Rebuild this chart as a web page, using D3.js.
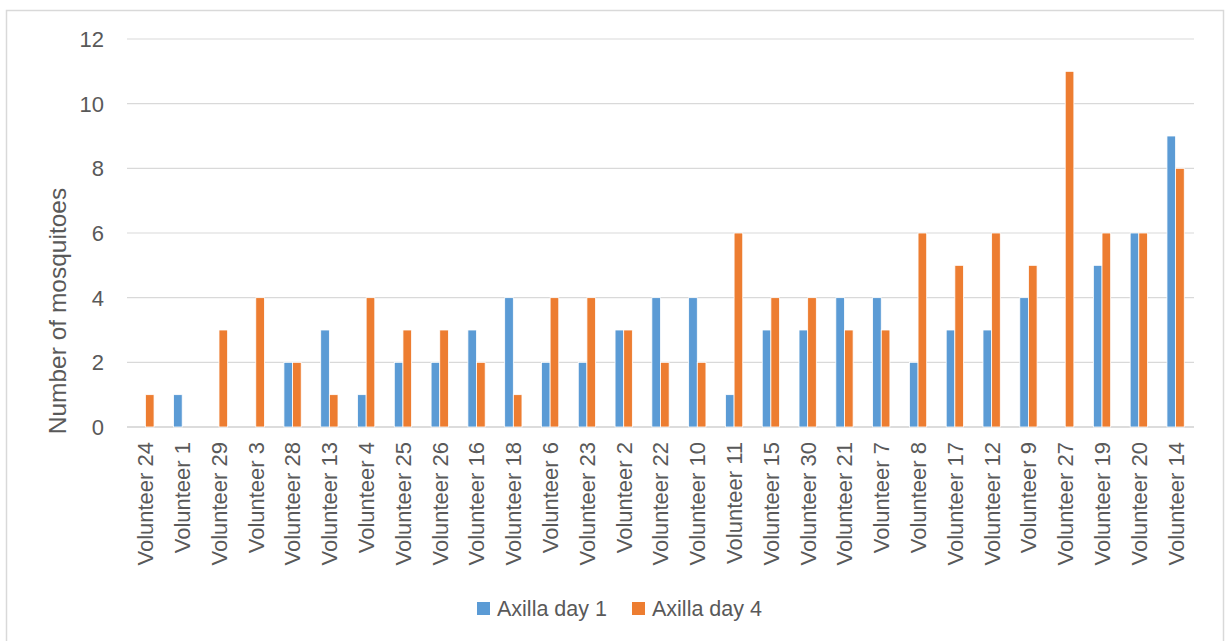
<!DOCTYPE html>
<html><head><meta charset="utf-8">
<script src="https://cdn.jsdelivr.net/npm/d3@7"></script>
<style>body{margin:0;background:#fff;} text{font-family:"Liberation Sans",Arial,sans-serif;fill:#595959;}</style>
</head><body>
<svg id="c" width="1232" height="641"></svg>
<script>
const categories = ["Volunteer 24","Volunteer 1","Volunteer 29","Volunteer 3","Volunteer 28","Volunteer 13","Volunteer 4","Volunteer 25","Volunteer 26","Volunteer 16","Volunteer 18","Volunteer 6","Volunteer 23","Volunteer 2","Volunteer 22","Volunteer 10","Volunteer 11","Volunteer 15","Volunteer 30","Volunteer 21","Volunteer 7","Volunteer 8","Volunteer 17","Volunteer 12","Volunteer 9","Volunteer 27","Volunteer 19","Volunteer 20","Volunteer 14"];
const day1 = [0,1,0,0,2,3,1,2,2,3,4,2,2,3,4,4,1,3,3,4,4,2,3,3,4,0,5,6,9];
const day4 = [1,0,3,4,2,1,4,3,3,2,1,4,4,3,2,2,6,4,4,3,3,6,5,6,5,11,6,6,8];
const seriesNames = ["Axilla day 1","Axilla day 4"];
const colors = ["#5b9bd5","#ed7d31"];
const yTicks = [0,2,4,6,8,10,12];

(function(){
const svg = d3.select("#c");
svg.append("rect").attr("x",6.5).attr("y",10.5).attr("width",1217).attr("height",640)
  .attr("fill","#fff").attr("stroke","#d9d9d9").attr("stroke-width",1.5);

const pL=127,pR=1194,pT=39,pB=427;
const x = d3.scaleBand().domain(categories).range([pL,pR]);
const y = d3.scaleLinear().domain([0,12]).range([pB,pT]);
const bw = x.bandwidth()*0.235;
const inner = d3.scaleBand().domain(seriesNames).range([-bw, bw]);

svg.append("g").selectAll("line").data(yTicks).join("line")
  .attr("x1",pL).attr("x2",pR).attr("y1",d=>y(d)).attr("y2",d=>y(d))
  .attr("stroke",d=>d===0?"#d0d0d0":"#d9d9d9").attr("stroke-width",d=>d===0?1.5:1.2);

svg.append("g").selectAll("text").data(yTicks).join("text")
  .attr("x",104).attr("y",d=>y(d)).attr("dy","0.36em").attr("text-anchor","end")
  .attr("font-size",22).text(d=>d);

const data = categories.map((c,i)=>({c, vals:[day1[i],day4[i]]}));
const g = svg.append("g");
data.forEach(d=>{
  seriesNames.forEach((s,j)=>{
    const v = d.vals[j];
    if(v<=0) return;
    g.append("rect")
      .attr("x", x(d.c)+x.bandwidth()/2+inner(s))
      .attr("y", y(v))
      .attr("width", inner.bandwidth())
      .attr("height", y(0)-y(v))
      .attr("fill", colors[j]).attr("stroke","#fff").attr("stroke-width",0.8);
  });
});

svg.append("g").selectAll("text").data(categories).join("text")
  .attr("transform",d=>`translate(${x(d)+x.bandwidth()/2},442) rotate(-90)`)
  .attr("dy","0.36em").attr("text-anchor","end").attr("font-size",22).text(d=>d);

svg.append("text").attr("transform","translate(57,311) rotate(-90)")
  .attr("text-anchor","middle").attr("dy","0.36em").attr("font-size",24.5).text("Number of mosquitoes");

const legX = [477,632];
seriesNames.forEach((s,j)=>{
  svg.append("rect").attr("x",legX[j]).attr("y",602).attr("width",13).attr("height",13).attr("fill",colors[j]);
  svg.append("text").attr("x",legX[j]+20).attr("y",608.5).attr("dy","0.36em").attr("font-size",21.5).text(s);
});
})();
</script>
</body></html>
